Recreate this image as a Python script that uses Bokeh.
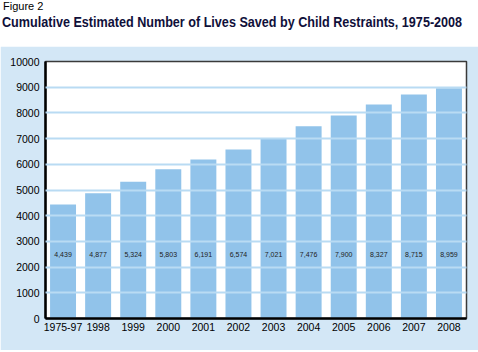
from bokeh.plotting import figure
from bokeh.models import ColumnDataSource, FactorRange, Range1d, Div, FixedTicker
from bokeh.layouts import column
from bokeh.core.properties import value
from bokeh.embed import file_html
from bokeh.resources import INLINE

years = ["1975-97", "1998", "1999", "2000", "2001", "2002", "2003", "2004", "2005", "2006", "2007", "2008"]
lives = [4439, 4877, 5324, 5803, 6191, 6574, 7021, 7476, 7900, 8327, 8715, 8959]
y_ticks = [0, 1000, 2000, 3000, 4000, 5000, 6000, 7000, 8000, 9000, 10000]
fig_label = "Figure 2"
title_text = "Cumulative Estimated Number of Lives Saved by Child Restraints, 1975-2008"

PANEL = "#d3e7f6"
BAR = "#91c3ea"
GRID = "#b9dbf3"
FONT = "Liberation Sans"

label_y = 2480
src = ColumnDataSource(dict(
    year=years,
    lives=lives,
    label=[f"{v:,}" for v in lives],
    ly=[label_y] * len(years),
))

head = Div(
    text=(
        '<div style="position:relative;width:478px;height:46px;background:#ffffff;">'
        f'<div style="position:absolute;left:3px;top:1px;font-family:\'{FONT}\',Arial,sans-serif;'
        'font-size:11px;line-height:11px;color:#000;white-space:nowrap;">' + fig_label + '</div>'
        f'<div style="position:absolute;left:2px;top:14px;font-family:\'{FONT}\',Arial,sans-serif;'
        'font-weight:bold;font-size:15.5px;line-height:15.5px;color:#10103a;white-space:nowrap;'
        'transform:scaleX(0.813);transform-origin:0 0;">' + title_text + '</div>'
        '</div>'
    ),
    width=478, height=46, margin=(0, 0, 0, 0),
)

p = figure(
    x_range=FactorRange(*years, range_padding=0),
    y_range=Range1d(0, 10000),
    width=478, height=304,
    output_backend="svg", toolbar_location=None,
    min_border_left=45, min_border_right=12, min_border_top=15, min_border_bottom=32,
    border_fill_color=PANEL, background_fill_color="#ffffff",
    outline_line_color="#3a3a3a", outline_line_width=1.5,
    margin=(0, 0, 0, 0),
)

p.vbar(x="year", top="lives", width=0.74, source=src, fill_color=BAR, line_color=None)
p.text(x="year", y="ly", text="label", source=src, text_align="center", text_baseline="middle",
       text_font=value(FONT), text_font_size="7px", text_color="#222222")

p.xgrid.grid_line_color = None
p.ygrid.grid_line_color = GRID
p.ygrid.grid_line_width = 2
p.ygrid.level = "overlay"
p.yaxis.ticker = FixedTicker(ticks=y_ticks)

for ax in (p.xaxis, p.yaxis):
    ax.axis_line_color = "#000000"
    ax.axis_line_width = 2.5
    ax.major_tick_line_color = None
    ax.minor_tick_line_color = None
    ax.major_tick_out = 0
    ax.major_tick_in = 0
    ax.major_label_text_font = FONT
    ax.major_label_text_font_size = "10.5px"
    ax.major_label_text_color = "#000000"

p.yaxis.major_label_standoff = 6
p.xaxis.major_label_standoff = 4
p.yaxis.formatter.use_scientific = False

layout = column(head, p, spacing=0)
open("out.html", "w").write(file_html(layout, INLINE))
